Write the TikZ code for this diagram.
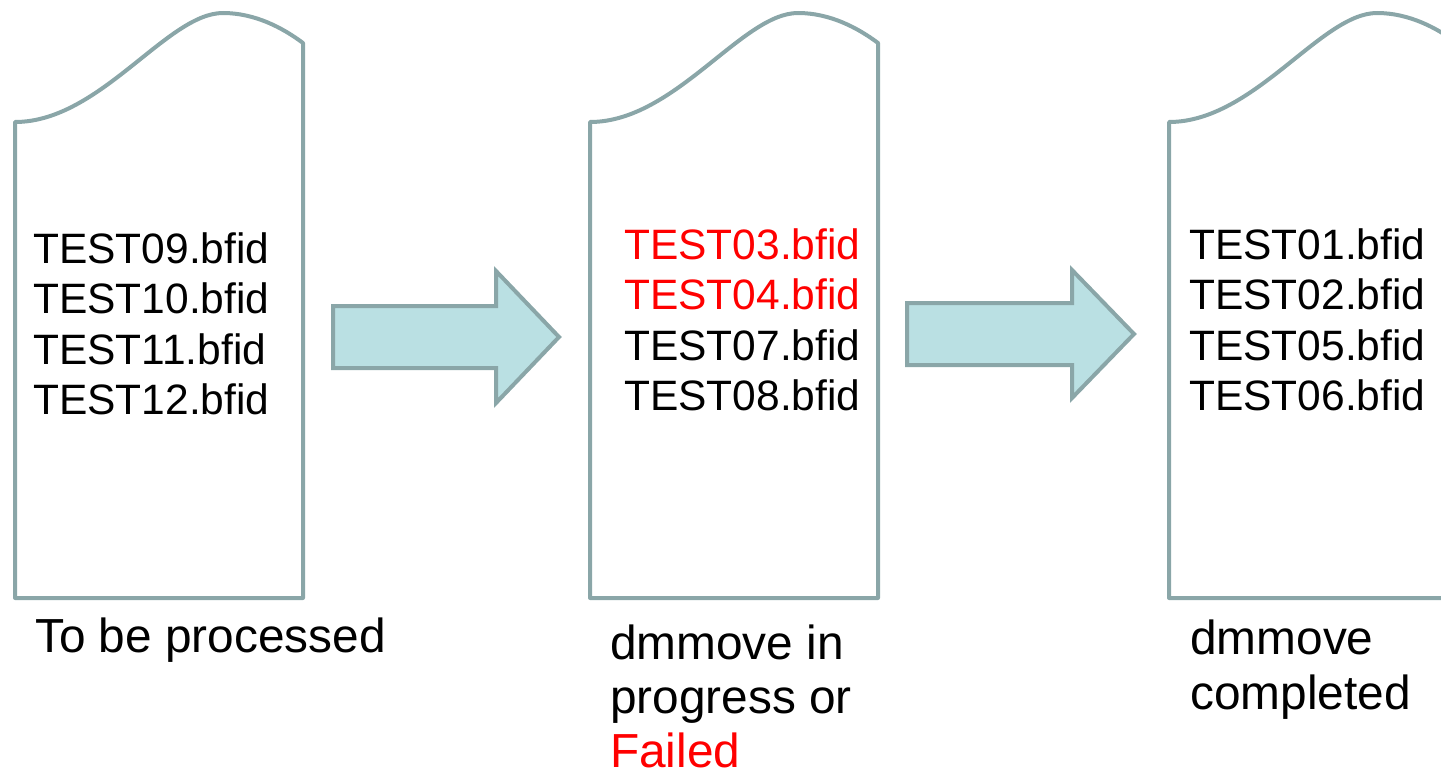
\documentclass[tikz,border=0pt]{standalone}
\usepackage{fontspec}
\setmainfont{Liberation Sans}
\definecolor{edgegray}{HTML}{8AA6A8}
\definecolor{arrowfill}{HTML}{BAE0E3}
\definecolor{failred}{HTML}{FF0000}
\tikzset{
  boxline/.style={draw=edgegray, line width=4bp, line join=round},
  arrowshape/.style={draw=edgegray, fill=arrowfill, line width=4bp, line join=miter},
  listtext/.style={anchor=base west, inner sep=0pt, font=\fontsize{42.5bp}{50bp}\selectfont},
  labeltext/.style={anchor=base west, inner sep=0pt, font=\fontsize{47.8bp}{54bp}\selectfont},
  tape/.pic={
    \path[boxline] (0,122) .. controls (85,122) and (152,13) .. (208,13)
      .. controls (240,13) and (268,28) .. (288,43) -- (288,598) -- (0,598) -- cycle;
  }
}
\begin{document}
\begin{tikzpicture}[x=1bp, y=-1bp]
\useasboundingbox (0,0) rectangle (1441,777);
\clip (0,0) rectangle (1441,777);
% document shapes
\pic at (15,0) {tape};
\pic at (590,0) {tape};
\pic at (1169,0) {tape};
% block arrows
\path[arrowshape] (333,306) -- (496,306) -- (496,271) -- (559,337) -- (496,403) -- (496,368) -- (333,368) -- cycle;
\path[arrowshape] (907,303) -- (1072,303) -- (1072,270) -- (1134,334) -- (1072,398) -- (1072,365) -- (907,365) -- cycle;
% lists
\node[listtext] (a1) at (33,263) {TEST09.bfid};
\node[listtext] (a2) at (33,313.5) {TEST10.bfid};
\node[listtext] (a3) at (33,364) {TEST11.bfid};
\node[listtext] (a4) at (33,414.5) {TEST12.bfid};
\node[listtext, text=failred] (b1) at (624,259) {TEST03.bfid};
\node[listtext, text=failred] (b2) at (624,309.5) {TEST04.bfid};
\node[listtext] (b3) at (624,360) {TEST07.bfid};
\node[listtext] (b4) at (624,410.5) {TEST08.bfid};
\node[listtext] (c1) at (1189,259) {TEST01.bfid};
\node[listtext] (c2) at (1189,309.5) {TEST02.bfid};
\node[listtext] (c3) at (1189,360) {TEST05.bfid};
\node[listtext] (c4) at (1189,410.5) {TEST06.bfid};
% labels
\node[labeltext] (l1) at (35,652) {To be processed};
\node[labeltext] (l2a) at (610,659) {dmmove in};
\node[labeltext] (l2b) at (610,713) {progress or};
\node[labeltext, text=failred] (l2c) at (610,767) {Failed};
\node[labeltext] (l3a) at (1190,654) {dmmove};
\node[labeltext] (l3b) at (1190,709) {completed};
\end{tikzpicture}
\end{document}
